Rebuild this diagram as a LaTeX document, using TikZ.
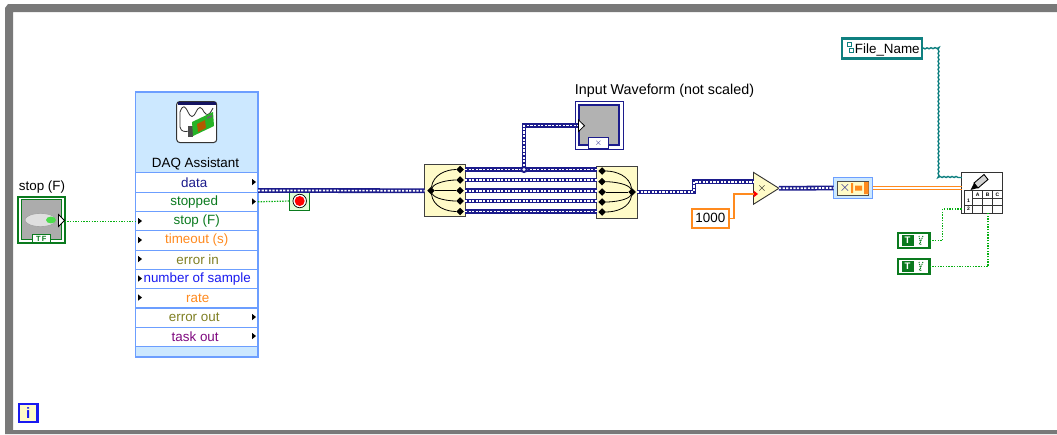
\documentclass[tikz,border=0pt]{standalone}
\usepackage{fontspec}
\setmainfont{Liberation Sans}
\usepackage{tikz}
\usetikzlibrary{positioning,calc,shapes.geometric,shapes.misc,decorations.pathmorphing}
\colorlet{loopGray}{gray!95!black}
\definecolor{nodeBlue}{HTML}{6C9EFF}
\definecolor{headBlue}{HTML}{CCE8FF}
\definecolor{wireNavy}{HTML}{1C1C8C}
\definecolor{boolGreen}{HTML}{0A7A1E}
\definecolor{numOrange}{HTML}{FF8A1E}
\definecolor{errOlive}{HTML}{808024}
\definecolor{refBlue}{HTML}{1A1AF0}
\definecolor{taskPurple}{HTML}{800A80}
\definecolor{pathTeal}{HTML}{0F8080}
\definecolor{blockCream}{HTML}{FFFBC8}
\tikzset{
  lvtext/.style={font=\fontsize{13.4}{15}\selectfont, inner sep=0pt, outer sep=0pt},
  rowbox/.style={lvtext, draw=nodeBlue, line width=1.1pt, fill=white, minimum width=122.5pt, minimum height=19.3pt},
  splitbox/.style={draw=black!75, line width=1pt, fill=blockCream, minimum width=40.5pt, minimum height=52pt, inner sep=0pt, outer sep=0pt},
  termdot/.style={diamond, fill=black, minimum size=7.5pt, inner sep=0pt, outer sep=0pt},
  arraywire/.style={wireNavy, line width=4.8pt, line join=miter, postaction={draw=white, line width=1.7pt, dash pattern=on 2.2pt off 1.4pt}},
  boolwire/.style={boolGreen!60!green, line width=1.2pt, dash pattern=on 1.4pt off 1.3pt},
  numwire/.style={numOrange, line width=1.3pt},
  pathwire/.style={pathTeal, line width=1.4pt},
  portin/.pic={\fill[black] (-2,-3.2) -- (2,0) -- (-2,3.2) -- cycle;},
  portout/.pic={\fill[black] (-2,-3.2) -- (2,0) -- (-2,3.2) -- cycle;},
  strconst/.style={draw=boolGreen, line width=2.2pt, fill=white, minimum width=31.5pt, minimum height=15.5pt, inner sep=0pt, outer sep=0pt}
}
\begin{document}
\begin{tikzpicture}[x=1pt, y=-1pt]
  \useasboundingbox (0,0) rectangle (1057,434);
  % loop frame
  \fill[white] (0,0) rectangle (1057,434);
  \fill[loopGray] (1057,4) -- (8,4) -- (5,8) -- (5,434) -- (1057,434) -- (1057,430) -- (13,430) -- (13,12) -- (1057,12) -- cycle;
  \node[draw=refBlue, line width=2.2pt, fill=blockCream, minimum width=18.5pt, minimum height=18pt, inner sep=0pt, outer sep=0pt, text=refBlue, font=\fontsize{15}{15}\bfseries\selectfont] (iter) at (28.3,413) {i};

  % stop control
  \node[lvtext] (stopLabel) at (42,187) {stop (F)};
  \node[draw=boolGreen, line width=2pt, fill=white, minimum width=46.5pt, minimum height=46.5pt, inner sep=0pt, outer sep=0pt] (stopCtl) at (41.3,220) {};
  \node[draw=boolGreen, line width=1pt, fill=gray!65, minimum width=40pt, minimum height=40pt, inner sep=0pt] (stopFace) at (41.3,219.5) {};
  \node[ellipse, draw=gray!80, fill=gray!25, minimum width=31pt, minimum height=13pt, inner sep=0pt] (stopLed) at (40.5,220) {};
  \fill[green!80!black!70] (51,220) ellipse (5pt and 3.4pt);
  \node[draw=boolGreen, line width=1pt, fill=white, text=boolGreen, minimum width=18pt, minimum height=8.5pt, inner sep=0pt, font=\fontsize{7.5}{8}\bfseries\selectfont] (stopTF) at (41.3,238.5) {T\,F};
  \draw[black, fill=white, line width=.8pt] (58.5,214.5) -- (64.5,220.5) -- (58.5,226.5) -- cycle;

  % DAQ Assistant
  \node[draw=nodeBlue, line width=1.1pt, fill=headBlue, minimum width=122.5pt, minimum height=265pt, inner sep=0pt, outer sep=0pt] (daq) at (196.7,224.5) {};
  \node[lvtext] (daqTitle) at (195.5,163.5) {DAQ Assistant};
  \node[rowbox, text=wireNavy] (rowData) at (196.7,182.5) {\hspace*{-5pt}data};
  \node[rowbox, text=boolGreen] (rowStopped) at (196.7,201.8) {\hspace*{-5pt}stopped};
  \node[rowbox, text=boolGreen] (rowStop) at (196.7,221.1) {stop (F)};
  \node[rowbox, text=numOrange] (rowTimeout) at (196.7,240.4) {timeout (s)};
  \node[rowbox, text=errOlive] (rowErrIn) at (196.7,259.7) {\hspace*{2pt}error in};
  \node[rowbox, text=refBlue] (rowSample) at (196.7,279) {\hspace*{1pt}number of sample};
  \node[rowbox, text=numOrange] (rowRate) at (196.7,298.3) {\hspace*{2pt}rate};
  \node[rowbox, text=errOlive] (rowErrOut) at (196.7,317.6) {\hspace*{-5pt}error out};
  \node[rowbox, text=taskPurple] (rowTask) at (196.7,336.9) {\hspace*{-3pt}task out};
  \pic at (254,182) {portout};
  \pic at (254,201.5) {portout};
  \pic at (254,317) {portout};
  \pic at (254,336) {portout};
  \pic at (140,221) {portin};
  \pic at (140,240) {portin};
  \pic at (140,259) {portin};
  \pic at (140,278.5) {portin};
  \pic at (140,297.5) {portin};

  % DAQ icon
  \node[draw=black!80, line width=1pt, rounded corners=3pt, fill=white, minimum width=40pt, minimum height=41pt, inner sep=0pt] (daqIcon) at (196.7,122) {};
  \fill[wireNavy!70!black] (178,102) rectangle (216,104.5);
  \draw[black!80, line width=.8pt] (180,127) -- (180,112) .. controls (183,104) and (185,106) .. (188,112) .. controls (191,118) and (193,118) .. (196,112) .. controls (199,106) and (201,106) .. (204,112) .. controls (207,116) and (209,116) .. (213,108);
  \draw[black!80, line width=.8pt] (180,127) .. controls (181,132) and (185,132) .. (189,131);
  \fill[black!70] (188,126) rectangle (193,137);
  \fill[green!65!black!85] (192,122) -- (213,112) -- (214,126) -- (193,136) -- cycle;
  \fill[orange!70!black] (197,124) -- (205,120) -- (206,128) -- (198,132) -- cycle;
  \fill[black!60] (207,117) -- (212,115) -- (212,117) -- (207,119) -- cycle;

  % stop terminal
  \node[draw=boolGreen, line width=1pt, fill=blockCream!60!green!30, minimum width=20pt, minimum height=19.5pt, inner sep=0pt, outer sep=0pt] (stopIcon) at (299.7,201) {};
  \node[circle, draw=black, line width=.7pt, fill=white, minimum size=13.5pt, inner sep=0pt] (stopRing) at (299.7,201) {};
  \node[circle, fill=red, minimum size=10pt, inner sep=0pt] (stopDot) at (299.7,201) {};

  % split and merge blocks
  \node[splitbox] (splitL) at (444.8,190.8) {};
  \node[splitbox] (mergeR) at (617,192) {};
  \node[termdot] (splitC) at (431,190.7) {};
  \node[termdot] (splitA) at (460,169.5) {};
  \node[termdot] (splitB) at (460,180) {};
  \node[termdot] (splitD) at (460,201) {};
  \node[termdot] (splitE) at (460,211.5) {};
  \node[termdot] (splitM) at (460,190.7) {};
  \node[termdot] (mergeC) at (632,192) {};
  \node[termdot] (mergeA) at (602,171) {};
  \node[termdot] (mergeB) at (602,181.7) {};
  \node[termdot] (mergeM) at (602,192) {};
  \node[termdot] (mergeD) at (602,202) {};
  \node[termdot] (mergeE) at (602,212) {};
  \draw[black, line width=.8pt] (splitC) -- (splitM);
  \draw[black, line width=.8pt] (splitC) .. controls +(3,-8) and +(-12,0) .. (splitB);
  \draw[black, line width=.8pt] (splitC) .. controls +(3,8) and +(-12,0) .. (splitD);
  \draw[black, line width=.8pt] (splitC) .. controls +(2,-16) and +(-14,0) .. (splitA);
  \draw[black, line width=.8pt] (splitC) .. controls +(2,16) and +(-14,0) .. (splitE);
  \draw[black, line width=.8pt] (mergeC) -- (mergeM);
  \draw[black, line width=.8pt] (mergeC) .. controls +(-3,-8) and +(12,0) .. (mergeB);
  \draw[black, line width=.8pt] (mergeC) .. controls +(-3,8) and +(12,0) .. (mergeD);
  \draw[black, line width=.8pt] (mergeC) .. controls +(-2,-16) and +(14,0) .. (mergeA);
  \draw[black, line width=.8pt] (mergeC) .. controls +(-2,16) and +(14,0) .. (mergeE);

  % waveform graph
  \node[lvtext, font=\fontsize{14.3}{15}\selectfont] (graphLabel) at (664.5,91) {Input Waveform (not scaled)};
  \node[draw=wireNavy, line width=1pt, fill=white, minimum width=48pt, minimum height=48pt, inner sep=0pt, outer sep=0pt] (graphOuter) at (599,125) {};
  \node[draw=wireNavy, line width=1.6pt, fill=gray!60, minimum width=40pt, minimum height=40pt, inner sep=0pt] (graphFace) at (599,125) {};
  \node[draw=wireNavy, line width=1pt, fill=white, minimum width=20pt, minimum height=11pt, inner sep=0pt, text=wireNavy, font=\fontsize{9}{9}\bfseries\selectfont] (graphTag) at (598.5,143) {$\times$};
  \coordinate (graphIn) at (579,125.5);

  % scaling
  \node[isosceles triangle, isosceles triangle apex angle=64, draw=black!80, line width=.9pt, fill=blockCream, minimum height=25.5pt, minimum width=26.5pt, inner sep=0pt, outer sep=0pt] (mult) at (762.3,188.3) {};
  \node[font=\fontsize{13}{13}\bfseries\selectfont, inner sep=0pt] (multMark) at (762,188.3) {$\times$};
  \node[lvtext, draw=numOrange, line width=2.4pt, fill=white, minimum width=37pt, minimum height=19pt] (constK) at (710.3,218.2) {1000};
  \fill[red] (753.5,190.5) -- (758,194) -- (753.5,197.5) -- cycle;

  % to dynamic data
  \node[chamfered rectangle, chamfered rectangle xsep=3pt, chamfered rectangle ysep=3.5pt, draw=nodeBlue, line width=1.6pt, fill=headBlue, minimum width=39pt, minimum height=21pt, inner sep=0pt, outer sep=0pt] (conv) at (853,188) {};
  \node[draw=black!70, line width=.8pt, fill=blockCream, minimum width=31pt, minimum height=14pt, inner sep=0pt] (convIn) at (853,188) {};
  \node[text=wireNavy, font=\fontsize{14}{14}\bfseries\selectfont, inner sep=0pt] (convX) at (845,188) {$\times$};
  \fill[numOrange] (851,183) rectangle (853,193) (855,185.5) rectangle (862,190.5) (864,182) rectangle (868.5,194);

  % write to file
  \node[draw=black!80, line width=1.1pt, fill=white, minimum width=40.5pt, minimum height=40.5pt, inner sep=0pt, outer sep=0pt] (writeBox) at (982,193) {};
  \draw[black!80, line width=1pt] (964,190) -- (1002,190) (972.7,198) -- (1002,198) (972.7,205) -- (1002,205) (964,190) -- (964,213) (972.7,190) -- (972.7,213) (982.7,190) -- (982.7,213) (992.5,190) -- (992.5,213) (964,205) -- (972.7,205);
  \node[font=\fontsize{5}{5}\bfseries\selectfont, inner sep=0pt] (colA) at (977.7,194.3) {A};
  \node[font=\fontsize{5}{5}\bfseries\selectfont, inner sep=0pt] (colB) at (987.6,194.3) {B};
  \node[font=\fontsize{5}{5}\bfseries\selectfont, inner sep=0pt] (colC) at (997.3,194.3) {C};
  \node[font=\fontsize{5}{5}\bfseries\selectfont, inner sep=0pt] (rowOne) at (968.4,200.5) {1};
  \node[font=\fontsize{5}{5}\bfseries\selectfont, inner sep=0pt] (rowTwo) at (968.4,209) {2};
  \draw[black, fill=gray!35, line width=.9pt] (974,183) -- (984,174.5) -- (988,179.5) -- (978,188) -- cycle;
  \fill[black] (974,183) -- (978,188) -- (970.5,190) -- cycle;

  % file name control
  \node[lvtext, draw=pathTeal, line width=2.2pt, fill=white, minimum width=80pt, minimum height=20pt, text depth=0pt] (fileName) at (881.8,48.5) {\hspace*{11pt}File\_Name};
  \draw[pathTeal, line width=.9pt, fill=white] (847,42) rectangle (851,46.5) (849.5,48) rectangle (853.5,52.5);
  \coordinate (fileCorner) at (938,48);
  \coordinate (fileDown) at (938,177.5);

  % string constants
  \node[strconst] (strOne) at (913.8,240.5) {};
  \node[strconst] (strTwo) at (913.8,266.5) {};
  \node[fill=boolGreen, text=white, minimum width=12pt, minimum height=11pt, inner sep=0pt, font=\fontsize{9.5}{10}\bfseries\selectfont] (tagOne) at (907.5,240.5) {T};
  \node[fill=boolGreen, text=white, minimum width=12pt, minimum height=11pt, inner sep=0pt, font=\fontsize{9.5}{10}\bfseries\selectfont] (tagTwo) at (907.5,266.5) {T};
  \draw[boolGreen, line width=1pt, dash pattern=on 1pt off 1pt] (919,236) -- (921,245) (923,236) -- (919,245) (919,262) -- (921,271) (923,262) -- (919,271);

  % wires
  \coordinate (dataOut) at (258,190.5);
  \coordinate (multIn) at (754,181.7);
  \draw[boolwire] (stopCtl.east |- rowStop) -- (rowStop.west);
  \draw[boolwire] (rowStopped.east) -- (stopIcon.west);
  \draw[arraywire] (dataOut) -- (splitL.west |- splitC);
  \draw[arraywire] (splitL.east |- splitA) -- (mergeR.west |- splitA);
  \draw[arraywire] (splitL.east |- splitB) -- (mergeR.west |- splitB);
  \draw[arraywire] (splitL.east |- splitM) -- (mergeR.west |- splitM);
  \draw[arraywire] (splitL.east |- splitD) -- (mergeR.west |- splitD);
  \draw[arraywire] (splitL.east |- splitE) -- (mergeR.west |- splitE);
  \coordinate (branch) at (524,169.5);
  \draw[arraywire] (branch) |- (graphIn);
  \fill[wireNavy] (branch) circle (3.6pt);
  \fill[white] (branch) circle (1.6pt);
  \draw[black, fill=white, line width=.8pt] (578.5,120) -- (584.5,125.7) -- (578.5,131.5) -- cycle;
  \coordinate (mergeOut) at (mergeR.east |- mergeC);
  \draw[arraywire] (mergeOut) -- (694,192) -- (694,181.7) -- (multIn);
  \draw[arraywire] (mult.apex) -- (conv.west);
  \draw[numwire] (constK.east) -| (734,194) -- (753.5,194);
  \draw[numOrange, line width=1.2pt] ($(conv.east)+(0,-1.7)$) -- ($(writeBox.west |- conv.east)+(0,-1.7)$);
  \draw[numOrange, line width=1.2pt] ($(conv.east)+(0,1.7)$) -- ($(writeBox.west |- conv.east)+(0,1.7)$);
  \draw[pathwire, decorate, decoration={snake, amplitude=.5pt, segment length=4pt}] (fileName.east) -- (fileCorner) -- (fileDown) -- (writeBox.west |- fileDown);
  \draw[boolwire] (strOne.east) -| (942.7,209) -- (writeBox.west |- 0,209);
  \draw[boolwire] (strTwo.east) -| (writeBox.south -| 988,0);
\end{tikzpicture}
\end{document}
